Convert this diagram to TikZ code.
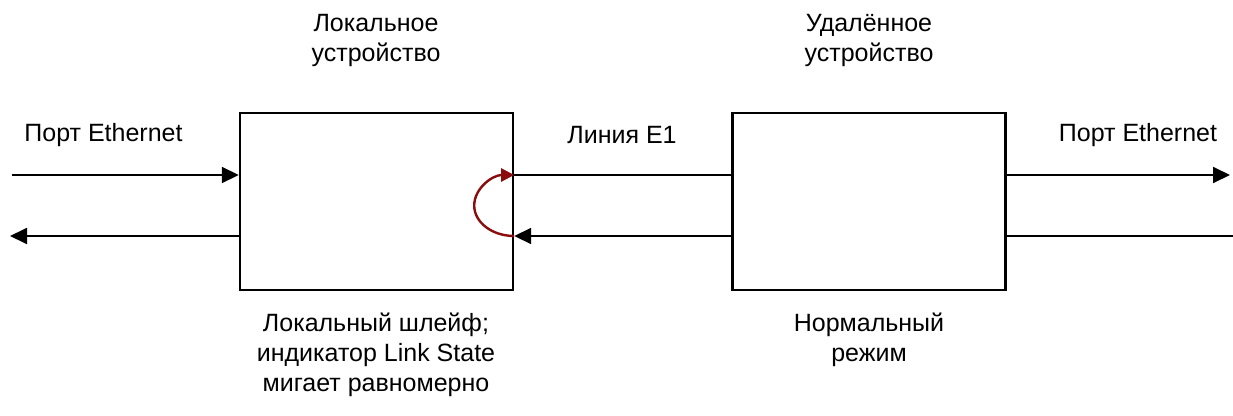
\documentclass[tikz,border=0pt]{standalone}
\usepackage{fontspec}
\setmainfont{Liberation Sans}
\usetikzlibrary{arrows.meta}
\definecolor{loopred}{RGB}{139,12,12}
\tikzset{
  unit/.style={draw,line width=2.4pt,fill=white,minimum width=273pt,minimum height=177pt},
  flow/.style={line width=1.8pt,-{Triangle[length=17pt,width=16pt]}},
  plain/.style={line width=1.8pt},
  lbl/.style={align=center,font=\fontsize{25}{30}\selectfont}
}
\begin{document}
\begin{tikzpicture}[x=1pt,y=-1pt]
\useasboundingbox (0,0) rectangle (1233,415);
\node[unit] (loc) at (376.5,201.5) {};
\node[unit] (rem) at (869,201.5) {};
\coordinate (pin) at (12,175);
\coordinate (pout) at (1230,175);
\coordinate (bin) at (1233,236);
\coordinate (bout) at (10,236);
% forward direction
\draw[flow] (pin) -- (loc.west |- pin);
\draw[plain] (loc.east |- pin) -- (rem.west |- pin);
\draw[flow] (rem.east |- pin) -- (pout);
% backward direction
\draw[plain] (bin) -- (rem.east |- bin);
\draw[flow] (rem.west |- bin) -- (loc.east |- bin);
\draw[flow] (loc.west |- bin) -- (bout);
% loop
\draw[loopred,line width=2.4pt,-{Triangle[length=13pt,width=13pt]}]
  (loc.east |- bin) arc[start angle=90,end angle=270,x radius=40,y radius=30.5];
\node[lbl] (loctitle) at (376,40) {Локальное\\устройство};
\node[lbl] (remtitle) at (869,40) {Удалённое\\устройство};
\node[lbl] (portl) at (103.5,135) {Порт Ethernet};
\node[lbl] (line) at (622,135) {Линия E1};
\node[lbl] (portr) at (1138,135) {Порт Ethernet};
\node[lbl] (locstate) at (376,355) {Локальный шлейф;\\индикатор Link State\\мигает равномерно};
\node[lbl] (remstate) at (869,340) {Нормальный\\режим};
\end{tikzpicture}
\end{document}
